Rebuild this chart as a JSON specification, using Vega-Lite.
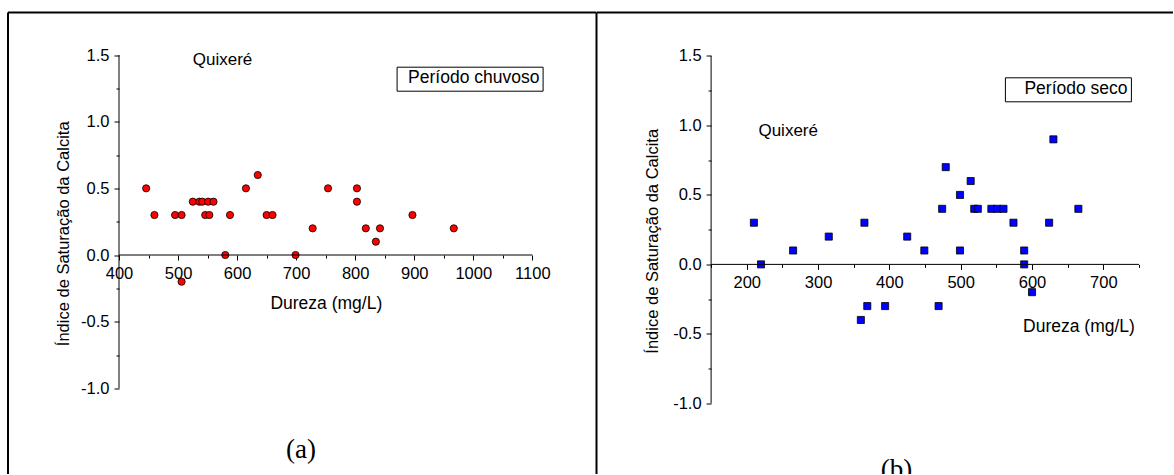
{
  "$schema": "https://vega.github.io/schema/vega-lite/v6.json",
  "padding": {"left": 7, "top": 11.5, "right": 0, "bottom": 0},
  "autosize": {"type": "pad"},
  "background": "white",
  "bounds": "flush",
  "spacing": 0,
  "config": {
    "view": {"stroke": null},
    "font": "Liberation Sans",
    "axis": {
      "grid": false, "domain": false, "tickColor": "#000", "tickWidth": 1,
      "labelColor": "#000", "titleColor": "#000",
      "labelFont": "Liberation Sans", "titleFont": "Liberation Sans",
      "labelFontSize": 16.5, "titleFontSize": 17, "titleFontWeight": "normal",
      "labelOverlap": false, "labelFlush": false
    },
    "legend": {
      "labelFont": "Liberation Sans", "labelFontSize": 17.5, "labelColor": "#000",
      "labelLimit": 400, "strokeColor": "#000", "fillColor": "#fff", "padding": 3,
      "symbolSize": 0, "symbolStrokeWidth": 0, "symbolOpacity": 0, "cornerRadius": 0
    }
  },
  "datasets": {
    "chuvoso": [
      {"dureza": 446, "isc": 0.5, "periodo": "Período chuvoso"},
      {"dureza": 460, "isc": 0.3, "periodo": "Período chuvoso"},
      {"dureza": 495, "isc": 0.3, "periodo": "Período chuvoso"},
      {"dureza": 506, "isc": 0.3, "periodo": "Período chuvoso"},
      {"dureza": 506, "isc": -0.2, "periodo": "Período chuvoso"},
      {"dureza": 525, "isc": 0.4, "periodo": "Período chuvoso"},
      {"dureza": 536, "isc": 0.4, "periodo": "Período chuvoso"},
      {"dureza": 541, "isc": 0.4, "periodo": "Período chuvoso"},
      {"dureza": 546, "isc": 0.3, "periodo": "Período chuvoso"},
      {"dureza": 551, "isc": 0.4, "periodo": "Período chuvoso"},
      {"dureza": 553, "isc": 0.3, "periodo": "Período chuvoso"},
      {"dureza": 560, "isc": 0.4, "periodo": "Período chuvoso"},
      {"dureza": 580, "isc": 0.0, "periodo": "Período chuvoso"},
      {"dureza": 588, "isc": 0.3, "periodo": "Período chuvoso"},
      {"dureza": 615, "isc": 0.5, "periodo": "Período chuvoso"},
      {"dureza": 635, "isc": 0.6, "periodo": "Período chuvoso"},
      {"dureza": 650, "isc": 0.3, "periodo": "Período chuvoso"},
      {"dureza": 660, "isc": 0.3, "periodo": "Período chuvoso"},
      {"dureza": 699, "isc": 0.0, "periodo": "Período chuvoso"},
      {"dureza": 728, "isc": 0.2, "periodo": "Período chuvoso"},
      {"dureza": 754, "isc": 0.5, "periodo": "Período chuvoso"},
      {"dureza": 803, "isc": 0.5, "periodo": "Período chuvoso"},
      {"dureza": 803, "isc": 0.4, "periodo": "Período chuvoso"},
      {"dureza": 818, "isc": 0.2, "periodo": "Período chuvoso"},
      {"dureza": 835, "isc": 0.1, "periodo": "Período chuvoso"},
      {"dureza": 842, "isc": 0.2, "periodo": "Período chuvoso"},
      {"dureza": 897, "isc": 0.3, "periodo": "Período chuvoso"},
      {"dureza": 967, "isc": 0.2, "periodo": "Período chuvoso"}
    ],
    "seco": [
      {"dureza": 210, "isc": 0.3, "periodo": "Período seco"},
      {"dureza": 220, "isc": 0.0, "periodo": "Período seco"},
      {"dureza": 265, "isc": 0.1, "periodo": "Período seco"},
      {"dureza": 315, "isc": 0.2, "periodo": "Período seco"},
      {"dureza": 360, "isc": -0.4, "periodo": "Período seco"},
      {"dureza": 365, "isc": 0.3, "periodo": "Período seco"},
      {"dureza": 369, "isc": -0.3, "periodo": "Período seco"},
      {"dureza": 394, "isc": -0.3, "periodo": "Período seco"},
      {"dureza": 425, "isc": 0.2, "periodo": "Período seco"},
      {"dureza": 449, "isc": 0.1, "periodo": "Período seco"},
      {"dureza": 469, "isc": -0.3, "periodo": "Período seco"},
      {"dureza": 474, "isc": 0.4, "periodo": "Período seco"},
      {"dureza": 479, "isc": 0.7, "periodo": "Período seco"},
      {"dureza": 499, "isc": 0.5, "periodo": "Período seco"},
      {"dureza": 499, "isc": 0.1, "periodo": "Período seco"},
      {"dureza": 514, "isc": 0.6, "periodo": "Período seco"},
      {"dureza": 519, "isc": 0.4, "periodo": "Período seco"},
      {"dureza": 524, "isc": 0.4, "periodo": "Período seco"},
      {"dureza": 543, "isc": 0.4, "periodo": "Período seco"},
      {"dureza": 551, "isc": 0.4, "periodo": "Período seco"},
      {"dureza": 560, "isc": 0.4, "periodo": "Período seco"},
      {"dureza": 574, "isc": 0.3, "periodo": "Período seco"},
      {"dureza": 589, "isc": 0.1, "periodo": "Período seco"},
      {"dureza": 589, "isc": 0.0, "periodo": "Período seco"},
      {"dureza": 600, "isc": -0.2, "periodo": "Período seco"},
      {"dureza": 624, "isc": 0.3, "periodo": "Período seco"},
      {"dureza": 630, "isc": 0.9, "periodo": "Período seco"},
      {"dureza": 665, "isc": 0.4, "periodo": "Período seco"}
    ],
    "one": [{}]
  },
  "resolve": {"scale": {"color": "independent"}, "legend": {"color": "independent"}},
  "hconcat": [
    {
      "width": 588.5,
      "height": 461.5,
      "resolve": {"axis": {"x": "independent", "y": "independent"}},
      "layer": [
        {
          "data": {"name": "chuvoso"},
          "mark": {"type": "point", "shape": "circle", "filled": true, "size": 52, "stroke": "#000", "strokeWidth": 0.8, "opacity": 1},
          "encoding": {
            "x": {
              "field": "dureza", "type": "quantitative", "title": "Dureza (mg/L)",
              "scale": {"domain": [212, 1208.7], "nice": false, "zero": false},
              "axis": {
                "offset": -219, "orient": "bottom",
                "values": [400, 450, 500, 550, 600, 650, 700, 750, 800, 850, 900, 950, 1000, 1050, 1100],
                "format": "d",
                "labelExpr": "datum.value % 100 === 0 ? datum.label : ''",
                "tickSize": {"condition": {"test": "datum.value % 100 !== 0", "value": 3}, "value": 5},
                "labelPadding": 5,
                "titleX": 317.8, "titleY": 53.3, "titleBaseline": "alphabetic", "titleAlign": "center", "titleFontSize": 17.5
              }
            },
            "y": {
              "field": "isc", "type": "quantitative", "title": "Índice de Saturação da Calcita",
              "scale": {"domain": [-1.6425, 1.8188], "nice": false, "zero": false},
              "axis": {
                "offset": -111, "orient": "left",
                "values": [-1, -0.75, -0.5, -0.25, 0, 0.25, 0.5, 0.75, 1, 1.25, 1.5],
                "format": ".1f",
                "labelExpr": "datum.value % 0.5 === 0 ? replace(datum.label, '−', '-') : ''",
                "tickSize": {"condition": {"test": "datum.value % 0.5 !== 0", "value": 3}, "value": 5},
                "labelPadding": 5,
                "titleX": -51, "titleY": 220.8, "titleAngle": -90, "titleBaseline": "alphabetic", "titleAlign": "center", "titleFontSize": 16.5
              }
            },
            "color": {
              "field": "periodo", "type": "nominal",
              "scale": {"domain": ["Período chuvoso"], "range": ["#ff0000"]},
              "legend": {"title": null, "orient": "none", "legendX": 388.6, "legendY": 54.2, "labelOffset": -9}
            }
          }
        },
        {
          "data": {"name": "one"},
          "mark": {"type": "rule", "color": "#000", "strokeWidth": 1},
          "encoding": {"x": {"datum": 400, "axis": null}, "y": {"datum": -1, "axis": null}, "y2": {"datum": 1.5}}
        },
        {
          "data": {"name": "one"},
          "mark": {"type": "rule", "color": "#000", "strokeWidth": 1},
          "encoding": {"y": {"datum": 0, "axis": null}, "x": {"datum": 400, "axis": null}, "x2": {"datum": 1100}}
        },
        {
          "data": {"name": "one"},
          "mark": {"type": "rule", "color": "#000", "strokeWidth": 2},
          "encoding": {"x": {"datum": 212, "axis": null}, "y": {"datum": -1.6425, "axis": null}, "y2": {"datum": 1.8188}}
        },
        {
          "data": {"name": "one"},
          "mark": {"type": "rule", "color": "#000", "strokeWidth": 2},
          "encoding": {"y": {"datum": 1.8188, "axis": null}, "x": {"datum": 212, "axis": null}, "x2": {"datum": 1208.7}}
        },
        {
          "data": {"name": "one"},
          "mark": {"type": "rule", "color": "#000", "strokeWidth": 2},
          "encoding": {"x": {"datum": 1208.7, "axis": null}, "y": {"datum": -1.6425, "axis": null}, "y2": {"datum": 1.8188}}
        },
        {
          "data": {"name": "one"},
          "mark": {"type": "text", "font": "Liberation Sans", "fontSize": 17, "align": "center", "baseline": "alphabetic", "color": "#000"},
          "encoding": {"x": {"datum": 575.3, "axis": null}, "y": {"datum": 1.425, "axis": null}, "text": {"value": "Quixeré"}}
        },
        {
          "data": {"name": "one"},
          "mark": {"type": "text", "font": "Liberation Serif", "fontSize": 27, "align": "center", "baseline": "alphabetic", "color": "#000"},
          "encoding": {"x": {"datum": 708.3, "axis": null}, "y": {"datum": -1.526, "axis": null}, "text": {"value": "(a)"}}
        }
      ]
    },
    {
      "width": 576,
      "height": 461.5,
      "resolve": {"axis": {"x": "independent", "y": "independent"}},
      "layer": [
        {
          "data": {"name": "seco"},
          "mark": {"type": "point", "shape": "square", "filled": true, "size": 50, "stroke": "#000", "strokeWidth": 0.8, "opacity": 1},
          "encoding": {
            "x": {
              "field": "dureza", "type": "quantitative", "title": "Dureza (mg/L)",
              "scale": {"domain": [-10, 797.7], "nice": false, "zero": false},
              "axis": {
                "offset": -209.6, "orient": "bottom",
                "values": [150, 200, 250, 300, 350, 400, 450, 500, 550, 600, 650, 700, 750],
                "format": "d",
                "labelExpr": "datum.value % 100 === 0 ? datum.label : ''",
                "tickSize": {"condition": {"test": "datum.value % 100 !== 0", "value": 3}, "value": 5},
                "labelPadding": 5,
                "titleX": 481.5, "titleY": 67.3, "titleBaseline": "alphabetic", "titleAlign": "center", "titleFontSize": 17.5
              }
            },
            "y": {
              "field": "isc", "type": "quantitative", "title": "Índice de Saturação da Calcita",
              "scale": {"domain": [-1.5088, 1.8131], "nice": false, "zero": false},
              "axis": {
                "offset": -114.1, "orient": "left",
                "values": [-1, -0.75, -0.5, -0.25, 0, 0.25, 0.5, 0.75, 1, 1.25, 1.5],
                "format": ".1f",
                "labelExpr": "datum.value % 0.5 === 0 ? replace(datum.label, '−', '-') : ''",
                "tickSize": {"condition": {"test": "datum.value % 0.5 !== 0", "value": 3}, "value": 5},
                "labelPadding": 5,
                "titleX": -53.6, "titleY": 228.3, "titleAngle": -90, "titleBaseline": "alphabetic", "titleAlign": "center", "titleFontSize": 16.5
              }
            },
            "color": {
              "field": "periodo", "type": "nominal",
              "scale": {"domain": ["Período seco"], "range": ["#0000ff"]},
              "legend": {"title": null, "orient": "none", "legendX": 407.9, "legendY": 64.8, "labelOffset": -1}
            }
          }
        },
        {
          "data": {"name": "one"},
          "mark": {"type": "rule", "color": "#000", "strokeWidth": 1},
          "encoding": {"x": {"datum": 150, "axis": null}, "y": {"datum": -1, "axis": null}, "y2": {"datum": 1.5}}
        },
        {
          "data": {"name": "one"},
          "mark": {"type": "rule", "color": "#000", "strokeWidth": 1},
          "encoding": {"y": {"datum": 0, "axis": null}, "x": {"datum": 150, "axis": null}, "x2": {"datum": 750}}
        },
        {
          "data": {"name": "one"},
          "mark": {"type": "rule", "color": "#000", "strokeWidth": 2},
          "encoding": {"y": {"datum": 1.8131, "axis": null}, "x": {"datum": -10, "axis": null}, "x2": {"datum": 797.7}}
        },
        {
          "data": {"name": "one"},
          "mark": {"type": "text", "font": "Liberation Sans", "fontSize": 17, "align": "center", "baseline": "alphabetic", "color": "#000"},
          "encoding": {"x": {"datum": 258.1, "axis": null}, "y": {"datum": 0.924, "axis": null}, "text": {"value": "Quixeré"}}
        },
        {
          "data": {"name": "one"},
          "mark": {"type": "text", "font": "Liberation Serif", "fontSize": 27, "align": "center", "baseline": "alphabetic", "color": "#000", "clip": true},
          "encoding": {"x": {"datum": 410, "axis": null}, "y": {"datum": -1.5376, "axis": null}, "text": {"value": "(b)"}}
        }
      ]
    }
  ]
}
